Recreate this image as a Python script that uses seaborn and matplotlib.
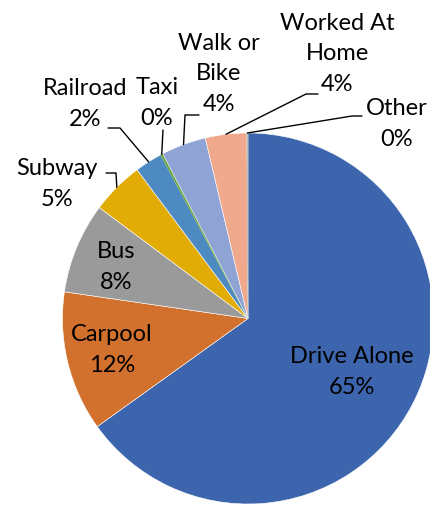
import numpy as np
import seaborn as sns
import matplotlib.pyplot as plt

# commute mode shares (percent), clockwise from 12 o'clock
modes = ["Drive Alone", "Carpool", "Bus", "Subway", "Railroad", "Taxi",
         "Walk or Bike", "Worked At Home", "Other"]
shares = [65.1, 12.2, 7.9, 4.6, 2.4, 0.2, 3.9, 3.6, 0.1]
pct_labels = ["65%", "12%", "8%", "5%", "2%", "0%", "4%", "4%", "0%"]
label_text = ["Drive Alone", "Carpool", "Bus", "Subway", "Railroad", "Taxi",
              "Walk or\nBike", "Worked At\nHome", "Other"]
colors = ["#3D65AE", "#D2712E", "#9A9A9A", "#E2AC07", "#4E8AC2",
          "#6AA443", "#8FA3D5", "#F0A98C", "#BDBDBD"]

sns.set_theme(style="white")
plt.rcParams["font.family"] = ["Lato", "DejaVu Sans"]

W, H = 430, 508
fig = plt.figure(figsize=(W / 100, H / 100), dpi=100)
ax = fig.add_axes([0, 0, 1, 1])

cx, cy, r = 248, 318.5, 185.5
wedges, _ = ax.pie(shares, colors=colors, startangle=270, counterclock=True,
                   center=(cx, cy), radius=r,
                   wedgeprops=dict(edgecolor="white", linewidth=0.4))
# tiny slices: keep their own colour on the border so they stay visible
for w in wedges[5:6] + wedges[8:9]:
    w.set_edgecolor(w.get_facecolor())
ax.set_xlim(0, W)
ax.set_ylim(H, 0)  # pixel-like coords, y downward
ax.set_aspect("equal")
ax.axis("off")

# label layout: text position, leader elbow points (None = inside label)
layout = {
    "Drive Alone": ((352, 372), None),
    "Carpool": ((112, 350), None),
    "Bus": ((116, 267), None),
    "Subway": ((57, 184), [(106, 173), (116, 173)]),
    "Railroad": ((85, 104), [(108, 128), (120, 128)]),
    "Taxi": ((157, 103), [(163, 130)]),
    "Walk or Bike": ((219, 74), [(199, 115), (185, 115)]),
    "Worked At Home": ((337, 54), [(318, 94), (306, 94)]),
    "Other": ((397, 124), [(362, 116), (352, 116)]),
}

fs = 17
for w, name, txt, pct in zip(wedges, modes, label_text, pct_labels):
    (tx, ty), elbow = layout[name]
    ax.text(tx, ty, f"{txt}\n{pct}", ha="center", va="center",
            fontsize=fs, color="black", linespacing=1.58)
    if elbow:
        mid = np.deg2rad((w.theta1 + w.theta2) / 2)
        ex, ey = cx + r * np.cos(mid), cy + r * np.sin(mid)
        xs = [p[0] for p in elbow] + [ex]
        ys = [p[1] for p in elbow] + [ey]
        ax.plot(xs, ys, color="black", linewidth=1.0)

fig.savefig("out.png", dpi=100)
